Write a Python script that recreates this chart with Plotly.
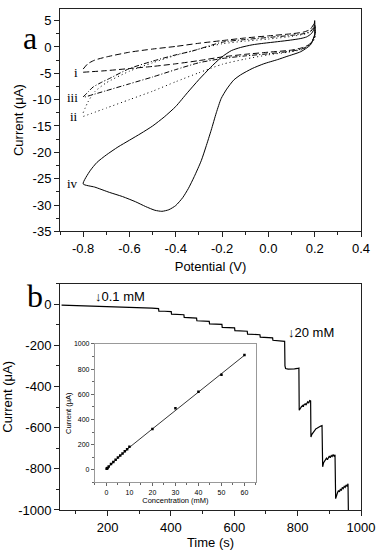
import plotly.graph_objects as go

# ---- panel a: cyclic voltammograms (potential V, current uA) ----
cv_i_E = [-0.80, -0.78, -0.75, -0.70, -0.60, -0.50, -0.40, -0.30, -0.20, -0.10, 0.00, 0.10, 0.15, 0.18, 0.20,
          0.20, 0.18, 0.15, 0.10, 0.00, -0.10, -0.20, -0.30, -0.40, -0.50, -0.60, -0.70, -0.80]
cv_i_I = [-4.2, -3.2, -2.5, -1.9, -1.0, -0.4, 0.1, 0.7, 1.2, 1.7, 2.1, 2.5, 2.8, 3.3, 4.5,
          2.2, 0.6, -0.1, -0.6, -1.0, -1.4, -1.9, -2.6, -3.2, -3.7, -4.1, -4.5, -4.8]

cv_ii_E = [-0.80, -0.78, -0.75, -0.70, -0.60, -0.50, -0.40, -0.30, -0.20, -0.10, 0.00, 0.10, 0.17, 0.20,
           0.20, 0.15, 0.10, 0.00, -0.10, -0.20, -0.30, -0.40, -0.50, -0.60, -0.70, -0.80]
cv_ii_I = [-12.5, -10.5, -8.5, -6.8, -4.6, -3.0, -1.6, -0.4, 0.6, 1.1, 1.5, 2.0, 2.6, 3.5,
           1.5, -0.4, -0.9, -1.5, -2.3, -3.3, -4.9, -6.6, -8.4, -10.0, -11.6, -13.2]

cv_iii_E = [-0.80, -0.78, -0.757, -0.72, -0.687, -0.60, -0.50, -0.40, -0.33, -0.20, -0.10, 0.00, 0.10, 0.15, 0.18, 0.20,
            0.20, 0.18, 0.15, 0.10, 0.00, -0.10, -0.20, -0.30, -0.40, -0.50, -0.60, -0.70, -0.80]
cv_iii_I = [-9.5, -8.6, -7.6, -6.7, -6.0, -4.1, -2.7, -1.5, -0.8, 0.9, 1.4, 1.8, 2.2, 2.5, 2.9, 3.8,
            2.0, 0.5, -0.3, -0.8, -1.3, -1.7, -2.2, -3.0, -4.3, -5.7, -7.0, -8.3, -9.6]

cv_iv_E = [-0.80, -0.77, -0.74, -0.70, -0.65, -0.60, -0.55, -0.50, -0.45, -0.40, -0.35, -0.30, -0.25,
           -0.204, -0.16, -0.12, -0.07, -0.02, 0.04, 0.096, 0.14, 0.165, 0.185, 0.195, 0.20,
           0.20, 0.19, 0.18, 0.14, 0.08, 0.04, -0.02, -0.07, -0.12, -0.15, -0.18, -0.204, -0.225, -0.247,
           -0.27, -0.29, -0.32, -0.346, -0.37, -0.40, -0.43, -0.46, -0.49, -0.53, -0.573, -0.63, -0.687, -0.75, -0.80]
cv_iv_I = [-26.0, -23.5, -21.9, -20.5, -19.0, -17.7, -16.4, -15.0, -13.3, -11.3, -8.7, -6.2, -3.9,
           -2.0, -0.7, -0.1, 0.4, 0.7, 1.0, 1.3, 1.6, 1.9, 2.5, 3.2, 5.0,
           2.4, 1.0, 0.3, -0.9, -1.8, -2.4, -3.2, -4.1, -5.3, -6.3, -8.0, -9.8, -12.5, -15.8,
           -19.0, -21.6, -24.6, -26.9, -28.6, -30.1, -30.9, -31.2, -31.0, -30.3, -29.4, -28.4, -27.6, -26.6, -26.0]

cv_labels = ["i", "ii", "iii", "iv"]
cv_label_I = [-4.8, -13.2, -9.6, -26.0]

# ---- panel b: amperometric response (time s, current uA) ----
time_s = [55, 100, 150, 200, 250, 300, 340, 361,
          362, 380, 401, 402, 420, 441, 442, 460, 481, 482, 500, 521,
          522, 540, 561, 562, 580, 601, 602, 620, 641, 642, 660, 681,
          682, 700, 721, 722, 740, 759,
          760, 762, 770, 780, 790, 800, 804,
          805, 808, 812, 816, 818, 820, 824, 826, 829, 832, 835, 838, 841,
          842, 845, 849, 852, 855, 858, 861, 865, 869, 873, 877,
          879, 882, 885, 888, 891, 894, 897, 900, 903, 906, 909, 912, 915, 918,
          920, 923, 926, 929, 932, 935, 938, 941, 944, 947, 950, 953, 956, 959,
          961]
current_uA = [-4, -6, -8, -10, -13, -16, -19, -21,
              -33, -34, -36, -48, -50, -51, -64, -66, -67, -80, -82, -83,
              -95, -97, -98, -112, -113, -115, -128, -130, -131, -145, -147, -148,
              -160, -162, -163, -175, -178, -180,
              -300, -312, -315, -316, -314, -312, -310,
              -515, -505, -498, -492, -498, -488, -484, -490, -478, -474, -480, -468, -470,
              -645, -632, -622, -615, -610, -605, -603, -598, -595, -592, -590,
              -790, -770, -760, -752, -748, -756, -742, -738, -746, -735, -740, -730, -738, -732,
              -945, -925, -915, -905, -912, -898, -905, -890, -896, -885, -890, -878, -885, -872,
              -1100]

# ---- inset: calibration ----
conc_mM = [0.1, 0.3, 0.5, 1, 2, 3, 4, 5, 6, 7, 8, 9, 10, 20, 30, 40, 50, 60]
calib_uA = [8, 12, 15, 25, 45, 62, 80, 97, 113, 130, 147, 163, 182, 325, 490, 620, 755, 912]
fit_conc = [0, 10, 20, 30, 40, 50, 60]
fit_uA = [8, 178, 325, 472, 618, 765, 910]

pot_ticks = [-0.8, -0.6, -0.4, -0.2, 0.0, 0.2, 0.4]
pot_ticktext = ["-0.8", "-0.6", "-0.4", "-0.2", "0.0", "0.2", "0.4"]
cur_a_ticks = [5, 0, -5, -10, -15, -20, -25, -30, -35]
cur_a_ticktext = ["5", "0", "-5", "-10", "-15", "-20", "-25", "-30", "-35"]
cur_b_ticks = [0, -200, -400, -600, -800, -1000]
cur_b_ticktext = ["0", "-200", "-400", "-600", "-800", "-1000"]

FONT = "Liberation Sans, Arial, sans-serif"
SERIF = "Liberation Serif, Times New Roman, serif"

fig = go.Figure()

styles = ["6px,3px", "1px,3px", "5px,2px,1px,2px", "solid"]
for E, I, dash in zip([cv_i_E, cv_ii_E, cv_iii_E, cv_iv_E], [cv_i_I, cv_ii_I, cv_iii_I, cv_iv_I], styles):
    fig.add_trace(go.Scatter(x=E, y=I, mode="lines", line=dict(color="black", width=1, dash=dash, shape="spline", smoothing=0.6),
                             xaxis="x", yaxis="y", showlegend=False))

fig.add_trace(go.Scatter(x=time_s, y=current_uA, mode="lines", line=dict(color="black", width=1.2),
                         xaxis="x2", yaxis="y2", showlegend=False))

fig.add_trace(go.Scatter(x=fit_conc, y=fit_uA, mode="lines", line=dict(color="black", width=0.8),
                         xaxis="x3", yaxis="y3", showlegend=False))
fig.add_trace(go.Scatter(x=conc_mM, y=calib_uA, mode="markers", marker=dict(color="black", size=2.5, symbol="square"),
                         xaxis="x3", yaxis="y3", showlegend=False))

axis_common = dict(showline=True, linecolor="#222", linewidth=1, mirror=True, ticks="outside", ticklen=5,
                   tickcolor="#222", showgrid=False, zeroline=False, tickfont=dict(size=13, family=FONT, color="black"))

fig.update_layout(
    width=380, height=553,
    margin=dict(l=57, r=18, t=5, b=41),
    paper_bgcolor="white", plot_bgcolor="white",
    font=dict(family=FONT, color="black"),
    xaxis=dict(axis_common, domain=[0, 1], anchor="y", range=[-0.9, 0.4], tickmode="array",
               tickvals=pot_ticks, ticktext=pot_ticktext,
               minor=dict(ticks="outside", ticklen=3, tickmode="linear", tick0=-0.9, dtick=0.1, tickcolor="#222"),
               title=dict(text="Potential (V)", font=dict(size=13, color="black"), standoff=6)),
    yaxis=dict(axis_common, domain=[0.5562, 1], anchor="x", range=[-35, 7.2], tickmode="array",
               tickvals=cur_a_ticks, ticktext=cur_a_ticktext,
               minor=dict(ticks="outside", ticklen=3, tickmode="linear", tick0=-35, dtick=2.5, tickcolor="#222"),
               title=dict(text="Current (μA)", font=dict(size=13, color="black"), standoff=6)),
    xaxis2=dict(axis_common, domain=[0, 1], anchor="y2", range=[50, 1000], dtick=200, tick0=0,
                minor=dict(ticks="outside", ticklen=3, dtick=100, tick0=0, tickcolor="#222"),
                title=dict(text="Time (s)", font=dict(size=13, color="black"), standoff=4)),
    yaxis2=dict(axis_common, domain=[0, 0.4517], anchor="x2", range=[-1000, 100], tickmode="array",
                tickvals=cur_b_ticks, ticktext=cur_b_ticktext,
                minor=dict(ticks="outside", ticklen=3, tickmode="linear", tick0=-1000, dtick=100, tickcolor="#222"),
                title=dict(text="Current (μA)", font=dict(size=13, color="black"), standoff=4)),
    xaxis3=dict(showline=True, linecolor="#999", linewidth=1, mirror=True, ticks="outside", ticklen=3,
                tickcolor="#666", showgrid=False, zeroline=False, domain=[0.116, 0.651], anchor="y3",
                range=[-5, 65], dtick=10, tick0=0,
                minor=dict(ticks="outside", ticklen=2, dtick=5, tick0=0, tickcolor="#666"),
                tickfont=dict(size=7, family=FONT, color="black"),
                title=dict(text="Concentration (mM)", font=dict(size=7.5, color="black"), standoff=1)),
    yaxis3=dict(showline=True, linecolor="#999", linewidth=1, mirror=True, ticks="outside", ticklen=3,
                tickcolor="#666", showgrid=False, zeroline=False, domain=[0.0552, 0.3314], anchor="x3",
                range=[-100, 1000], dtick=200, tick0=0,
                minor=dict(ticks="outside", ticklen=2, dtick=100, tick0=0, tickcolor="#666"),
                tickfont=dict(size=7, family=FONT, color="black"),
                title=dict(text="Current (μA)", font=dict(size=7.5, color="black"), standoff=1)),
)

# curve labels in panel a
for lab, yv in zip(cv_labels, cv_label_I):
    fig.add_annotation(x=-0.812, y=yv, xref="x", yref="y", text=lab, showarrow=False, xanchor="right",
                       font=dict(family=SERIF, size=13, color="black"))

# panel letters
fig.add_annotation(x=-0.128, y=0.982, xref="paper", yref="paper", text="a", showarrow=False,
                   font=dict(family=SERIF, size=32, color="black"))
fig.add_annotation(x=-0.115, y=0.428, xref="paper", yref="paper", text="b", showarrow=False,
                   font=dict(family=SERIF, size=32, color="black"))

# addition markers in panel b
fig.add_annotation(x=155, y=38, xref="x2", yref="y2", text="↓0.1 mM", showarrow=False, xanchor="left",
                   font=dict(family=FONT, size=13, color="black"))
fig.add_annotation(x=763, y=-138, xref="x2", yref="y2", text="↓20 mM", showarrow=False, xanchor="left",
                   font=dict(family=FONT, size=13, color="black"))

# page has a default body margin; drop it so the figure sits at the window corner
fig.write_html("out.html", config={"displayModeBar": False},
               post_script="document.body.style.margin='0';")
